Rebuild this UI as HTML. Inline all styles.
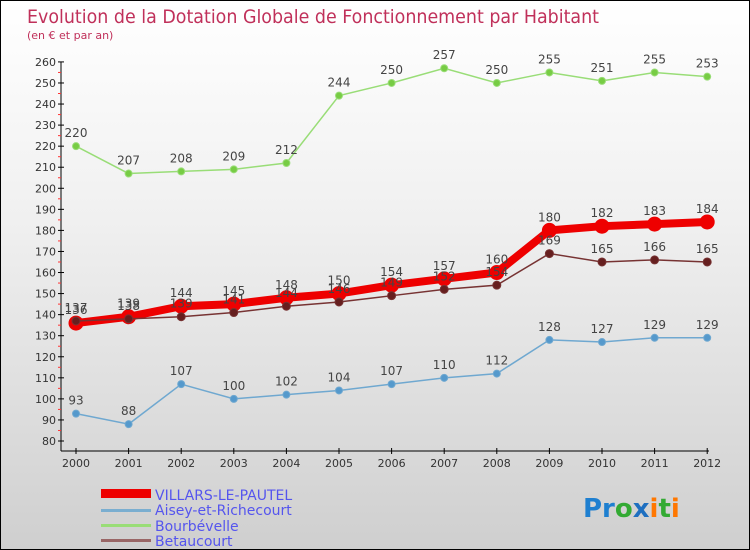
<!DOCTYPE html>
<html><head><meta charset="utf-8"><style>
body{margin:0}
#c{width:748px;height:548px;border:1px solid #000;background:linear-gradient(#fff,#f0f0f0 40%,#cfcfcf);position:relative;font-family:"DejaVu Sans","Liberation Sans",sans-serif;overflow:hidden}
text{font-family:"DejaVu Sans","Liberation Sans",sans-serif}
</style></head><body>
<div id="c">
<svg id="s" width="748" height="548">
<text x="26" y="22" font-size="19" fill="#c0305a" textLength="572" lengthAdjust="spacingAndGlyphs">Evolution de la Dotation Globale de Fonctionnement par Habitant</text>
<text x="26" y="38" font-size="11" fill="#c0305a">(en € et par an)</text>
<g id="g"></g>
<g>
<rect x="100" y="488" width="50" height="9" fill="#e00"/>
<text x="154" y="499" font-size="14" fill="#5555ee">VILLARS-LE-PAUTEL</text>
<rect x="100" y="508" width="50" height="3" fill="#7aaed0"/>
<text x="154" y="514" font-size="14" fill="#5555ee">Aisey-et-Richecourt</text>
<rect x="100" y="523" width="50" height="3" fill="#99dd77"/>
<text x="154" y="530" font-size="14" fill="#5555ee">Bourbévelle</text>
<rect x="100" y="538" width="50" height="3" fill="#996666"/>
<text x="154" y="545" font-size="14" fill="#5555ee">Betaucourt</text>
</g>
<text x="582" y="516" font-size="26" font-weight="bold"><tspan fill="#1e7fd0">Pr</tspan><tspan fill="#33aa33">o</tspan><tspan fill="#1e6fc0">x</tspan><tspan fill="#ff7700">i</tspan><tspan fill="#33aa33">t</tspan><tspan fill="#ff7700">i</tspan></text>
</svg></div>
<script>
const years=[2000,2001,2002,2003,2004,2005,2006,2007,2008,2009,2010,2011,2012];
const villars=[136,139,144,145,148,150,154,157,160,180,182,183,184];
const aisey=[93,88,107,100,102,104,107,110,112,128,127,129,129];
const bourbevelle=[220,207,208,209,212,244,250,257,250,255,251,255,253];
const betaucourt=[137,138,139,141,144,146,149,152,154,169,165,166,165];
const yTicks=[80,90,100,110,120,130,140,150,160,170,180,190,200,210,220,230,240,250,260];
const NS='http://www.w3.org/2000/svg',g=document.getElementById('g');
const x=i=>75+i*52.6, y=v=>440-(v-80)*21.06/10;
function mk(t,a,p){const e=document.createElementNS(NS,t);for(const k in a)e.setAttribute(k,a[k]);(p||g).appendChild(e);return e;}
let ax=mk('line',{x1:60,y1:61,x2:60,y2:450,stroke:'#000'});


let bx=mk('line',{x1:60,y1:450,x2:708,y2:450,stroke:'#000'});


yTicks.forEach(v=>{mk('line',{x1:57,x2:63,y1:y(v),y2:y(v),stroke:'#000'});
 if(v<260)mk('line',{x1:57,x2:60,y1:y(v+5),y2:y(v+5),stroke:'#f33'});
 const t=mk('text',{x:55,y:y(v)+4,'font-size':11,fill:'#333','text-anchor':'end'});t.textContent=v;
 
 });
years.forEach((yr,i)=>{mk('line',{x1:x(i),x2:x(i),y1:447,y2:453,stroke:'#000'});
 const t=mk('text',{x:x(i),y:466,'font-size':11,fill:'#333','text-anchor':'middle'});t.textContent=yr;
 
 });
function series(d,col,w,r,name,dot){
 const p=mk('polyline',{points:d.map((v,i)=>x(i)+','+y(v)).join(' '),fill:'none',stroke:col,'stroke-width':w});
 
 
 d.forEach((v,i)=>{const c=mk('circle',{cx:x(i),cy:y(v),r:r,fill:dot,stroke:col,'stroke-width':1});
  
  
  const t=mk('text',{x:x(i),y:y(v)-9,'font-size':12,fill:'#444','text-anchor':'middle'});t.textContent=v;
  
  });
}
series(aisey,'#6fa8d0',1.5,3.5,'aisey','#5599cc');
series(bourbevelle,'#99dd77',1.5,3.5,'bourbevelle','#77cc44');
series(villars,'#ee0000',8,7,'villars','#ee0000');
series(betaucourt,'#773333',1.5,4,'betaucourt','#661f1f');
</script>
</body></html>
